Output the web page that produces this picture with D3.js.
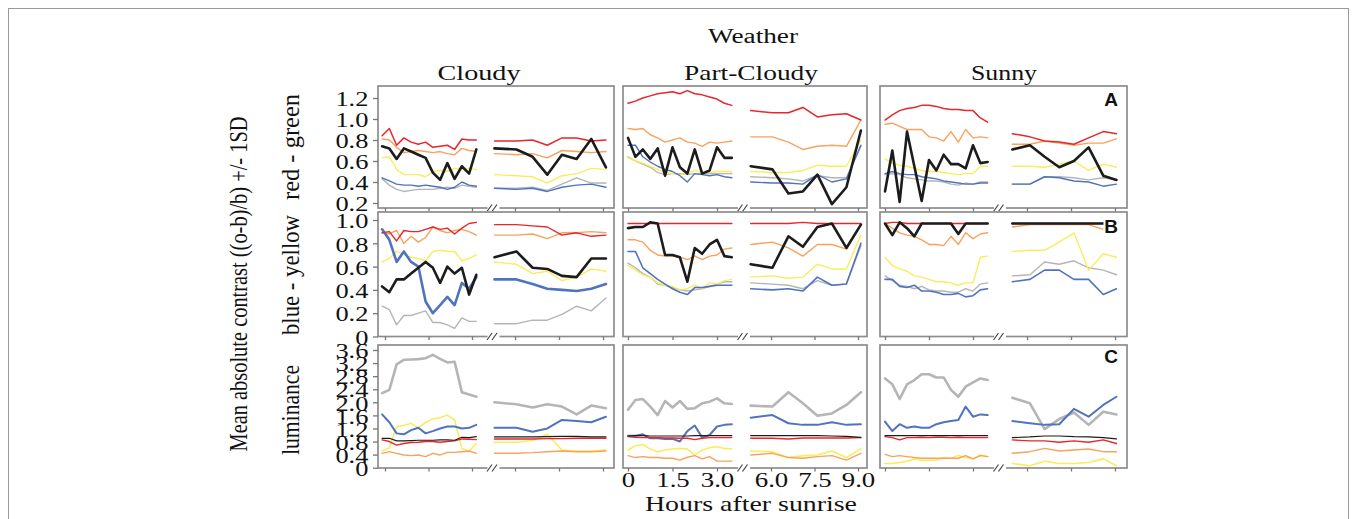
<!DOCTYPE html>
<html><head><meta charset="utf-8">
<script src="https://cdn.jsdelivr.net/npm/d3@7"></script>
<style>body{margin:0;background:#fff}</style>
</head><body>
<svg id="c" width="1357" height="519"></svg>
<script>
// ---------------- data ----------------
const weather = ["Cloudy", "Part-Cloudy", "Sunny"];
const measures = ["red - green", "blue - yellow", "luminance"];
const panelLetters = ["A", "B", "C"];
const seriesOrder = ["gray", "yellow", "orange", "blue", "red", "black"];

const hoursLeftCloudy = [-0.1,0.15,0.4,0.65,0.9,1.15,1.4,1.65,1.9,2.15,2.4,2.65,2.9,3.15];
const hoursLeft = [0,0.25,0.5,0.75,1,1.25,1.5,1.75,2,2.25,2.5,2.75,3,3.25,3.5];
const hoursRight = [5.3,6.05,6.6,7.1,7.6,8.1,8.6,9.1];
const hoursRightSunny = [5.5,6.1,6.6,7.1,7.6,8.1,8.6,9.05];

const xTickValues = [0, 1.5, 3.0, 6.0, 7.5, 9.0];
const xTickLabels = ["0", "1.5", "3.0", "6.0", "7.5", "9.0"];
const yTicksRG = [0.2, 0.4, 0.6, 0.8, 1.0, 1.2];
const yLabelsRG = ["0.2", "0.4", "0.6", "0.8", "1.0", "1.2"];
const yTicksBY = [0, 0.2, 0.4, 0.6, 0.8, 1.0];
const yLabelsBY = ["0", "0.2", "0.4", "0.6", "0.8", "1.0"];
const yTicksLum = [0, 0.4, 0.8, 1.2, 1.6, 2.0, 2.4, 2.8, 3.2, 3.6];
const yLabelsLum = ["0", "0.4", "0.8", "1.2", "1.6", "2.0", "2.4", "2.8", "3.2", "3.6"];

// Row A: red - green
const rgCloudy = {
  red:    {L:[0.84,0.91,0.75,0.82,0.78,0.76,0.78,0.73,0.74,0.75,0.71,0.81,0.80,0.80], R:[0.79,0.79,0.80,0.75,0.82,0.82,0.79,0.80]},
  orange: {L:[0.81,0.80,0.73,0.68,0.69,0.70,0.69,0.68,0.69,0.67,0.66,0.72,0.70,0.69], R:[0.67,0.66,0.67,0.63,0.70,0.69,0.68,0.69]},
  yellow: {L:[0.63,0.64,0.52,0.47,0.47,0.47,0.45,0.50,0.51,0.50,0.53,0.52,0.53,0.52], R:[0.47,0.46,0.45,0.39,0.46,0.48,0.53,0.52]},
  blue:   {L:[0.44,0.41,0.38,0.37,0.37,0.36,0.37,0.36,0.35,0.33,0.35,0.40,0.37,0.36], R:[0.34,0.33,0.34,0.31,0.35,0.37,0.38,0.35]},
  gray:   {L:[0.43,0.37,0.33,0.31,0.32,0.33,0.33,0.33,0.34,0.35,0.34,0.37,0.36,0.35], R:[0.34,0.34,0.35,0.32,0.38,0.44,0.39,0.39]},
  black:  {L:[0.74,0.72,0.62,0.72,0.69,0.66,0.63,0.49,0.42,0.58,0.43,0.55,0.48,0.71], R:[0.72,0.71,0.64,0.47,0.66,0.62,0.81,0.54]}
};
const rgPart = {
  red:    {L:[1.15,1.17,1.20,1.22,1.24,1.25,1.26,1.24,1.27,1.24,1.23,1.21,1.19,1.15,1.13], R:[1.08,1.06,1.06,1.11,1.02,1.04,1.05,0.99]},
  orange: {L:[0.91,0.90,0.91,0.85,0.82,0.78,0.80,0.82,0.78,0.77,0.74,0.78,0.77,0.78,0.79], R:[0.83,0.83,0.78,0.71,0.74,0.75,0.74,0.99]},
  yellow: {L:[0.63,0.60,0.58,0.55,0.52,0.49,0.48,0.47,0.48,0.51,0.49,0.49,0.50,0.50,0.50], R:[0.50,0.49,0.49,0.51,0.56,0.55,0.55,0.80]},
  blue:   {L:[0.75,0.75,0.64,0.59,0.55,0.52,0.50,0.46,0.40,0.48,0.47,0.46,0.47,0.45,0.44], R:[0.40,0.39,0.39,0.38,0.47,0.40,0.43,0.75]},
  gray:   {L:[0.64,0.60,0.57,0.54,0.49,0.47,0.48,0.48,0.47,0.48,0.48,0.48,0.48,0.48,0.48], R:[0.45,0.44,0.43,0.41,0.46,0.44,0.44,0.74]},
  black:  {L:[0.82,0.64,0.71,0.62,0.72,0.46,0.73,0.54,0.48,0.71,0.48,0.51,0.73,0.63,0.63], R:[0.55,0.52,0.29,0.31,0.47,0.19,0.35,0.89]}
};
const rgSunny = {
  red:    {L:[0.99,1.04,1.08,1.10,1.11,1.13,1.13,1.12,1.10,1.09,1.09,1.08,1.08,1.01,0.97], R:[0.86,0.83,0.79,0.78,0.76,0.82,0.88,0.86]},
  orange: {L:[0.95,0.96,0.93,0.90,0.90,0.90,0.83,0.82,0.79,0.88,0.78,0.90,0.82,0.83,0.82], R:[0.76,0.76,0.79,0.77,0.75,0.77,0.77,0.81]},
  yellow: {L:[0.62,0.58,0.56,0.55,0.53,0.51,0.50,0.50,0.49,0.48,0.47,0.48,0.48,0.55,0.55], R:[0.55,0.55,0.54,0.57,0.60,0.51,0.57,0.54]},
  blue:   {L:[0.48,0.50,0.48,0.47,0.47,0.45,0.44,0.43,0.41,0.40,0.39,0.38,0.38,0.39,0.39], R:[0.38,0.38,0.45,0.44,0.41,0.40,0.36,0.38]},
  gray:   {L:[0.47,0.48,0.47,0.44,0.43,0.42,0.41,0.41,0.40,0.38,0.37,0.39,0.38,0.40,0.40], R:[0.38,0.38,0.45,0.45,0.44,0.42,0.44,0.42]},
  black:  {L:[0.31,0.70,0.21,0.88,0.55,0.22,0.61,0.51,0.66,0.57,0.57,0.53,0.75,0.58,0.59], R:[0.71,0.75,0.64,0.54,0.60,0.73,0.46,0.42]}
};

// Row B: blue - yellow
const byCloudy = {
  red:    {L:[0.89,0.90,0.82,0.91,0.90,0.90,0.92,0.94,0.92,0.93,0.88,0.93,0.97,0.98], R:[0.96,0.96,0.95,0.94,0.87,0.89,0.86,0.87]},
  orange: {L:[0.89,0.88,0.91,0.80,0.86,0.81,0.85,0.94,0.91,0.89,0.91,0.92,0.90,0.87], R:[0.87,0.87,0.88,0.84,0.89,0.89,0.90,0.89]},
  yellow: {L:[0.64,0.67,0.73,0.70,0.68,0.67,0.65,0.73,0.74,0.73,0.73,0.65,0.67,0.70], R:[0.64,0.62,0.54,0.56,0.48,0.51,0.58,0.56]},
  blue:   {L:[0.92,0.83,0.64,0.73,0.64,0.60,0.30,0.20,0.27,0.34,0.27,0.46,0.41,0.51], R:[0.49,0.49,0.45,0.41,0.40,0.39,0.41,0.45]},
  gray:   {L:[0.26,0.23,0.10,0.18,0.18,0.20,0.22,0.12,0.12,0.10,0.07,0.16,0.13,0.13], R:[0.11,0.11,0.14,0.14,0.19,0.26,0.22,0.33]},
  black:  {L:[0.43,0.38,0.49,0.49,0.54,0.59,0.64,0.59,0.46,0.60,0.54,0.59,0.36,0.53], R:[0.68,0.73,0.59,0.58,0.52,0.51,0.67,0.67]}
};
const byPart = {
  red:    {L:[0.97,0.97,0.97,0.97,0.97,0.97,0.97,0.97,0.97,0.97,0.97,0.97,0.97,0.97,0.97], R:[0.97,0.97,0.97,0.98,0.97,0.97,0.97,0.97]},
  orange: {L:[0.83,0.83,0.81,0.74,0.70,0.69,0.69,0.68,0.66,0.69,0.66,0.69,0.70,0.75,0.76], R:[0.79,0.81,0.76,0.69,0.79,0.79,0.75,0.96]},
  yellow: {L:[0.61,0.57,0.53,0.51,0.46,0.44,0.43,0.40,0.41,0.44,0.41,0.46,0.45,0.48,0.49], R:[0.51,0.52,0.50,0.51,0.62,0.58,0.58,0.87]},
  blue:   {L:[0.73,0.73,0.59,0.54,0.49,0.45,0.41,0.38,0.36,0.42,0.42,0.43,0.44,0.44,0.44], R:[0.41,0.40,0.41,0.39,0.51,0.44,0.45,0.80]},
  gray:   {L:[0.63,0.59,0.54,0.51,0.45,0.44,0.42,0.40,0.39,0.40,0.41,0.43,0.45,0.47,0.47], R:[0.46,0.45,0.44,0.41,0.48,0.44,0.45,0.78]},
  black:  {L:[0.93,0.94,0.94,0.98,0.97,0.70,0.70,0.68,0.47,0.76,0.71,0.79,0.83,0.69,0.68], R:[0.62,0.59,0.86,0.77,0.94,0.97,0.76,0.96]}
};
const bySunny = {
  red:    {L:[0.97,0.98,0.98,0.97,0.97,0.97,0.97,0.97,0.97,0.97,0.97,0.97,0.97,0.97,0.97], R:[0.97,0.97,0.97,0.97,0.97,0.97,0.97,0.97]},
  orange: {L:[0.97,0.93,0.89,0.87,0.86,0.83,0.79,0.79,0.78,0.86,0.79,0.89,0.84,0.88,0.89], R:[0.94,0.96,0.96,0.96,0.96,0.96,0.92,0.91]},
  yellow: {L:[0.68,0.61,0.58,0.56,0.52,0.51,0.49,0.47,0.47,0.46,0.44,0.46,0.46,0.68,0.69], R:[0.73,0.74,0.74,0.81,0.89,0.57,0.71,0.68]},
  blue:   {L:[0.49,0.49,0.43,0.42,0.44,0.39,0.39,0.38,0.36,0.36,0.37,0.34,0.35,0.40,0.41], R:[0.47,0.49,0.57,0.57,0.49,0.49,0.36,0.41]},
  gray:   {L:[0.52,0.48,0.44,0.43,0.41,0.43,0.40,0.39,0.39,0.38,0.38,0.41,0.39,0.45,0.46], R:[0.52,0.53,0.64,0.62,0.65,0.59,0.57,0.53]},
  black:  {L:[0.97,0.87,0.98,0.93,0.86,0.97,0.97,0.97,0.97,0.97,0.88,0.97,0.97,0.97,0.97], R:[0.97,0.97,0.97,0.97,0.97,0.97,0.97,0.97]}
};

// Row C: luminance
const lumCloudy = {
  gray:   {L:[2.28,2.38,3.16,3.30,3.31,3.32,3.35,3.45,3.33,3.22,3.24,2.31,2.24,2.17], R:[2.00,1.94,1.84,1.94,1.87,1.63,1.90,1.82]},
  blue:   {L:[1.63,1.39,1.05,1.02,1.15,1.22,1.05,1.12,1.20,1.26,1.26,1.20,1.22,1.31], R:[1.22,1.22,1.10,1.20,1.46,1.43,1.39,1.56]},
  yellow: {L:[0.51,0.60,1.26,1.29,1.36,1.22,1.39,1.49,1.53,1.61,1.46,0.59,0.51,0.74], R:[0.78,0.78,0.83,1.02,0.54,0.51,0.51,0.54]},
  black:  {L:[0.90,0.90,0.82,0.82,0.83,0.84,0.84,0.84,0.85,0.85,0.84,0.93,0.92,0.95], R:[0.94,0.94,0.94,0.95,0.96,0.96,0.94,0.94]},
  red:    {L:[0.85,0.80,0.69,0.74,0.77,0.78,0.80,0.80,0.78,0.80,0.82,0.88,0.87,0.86], R:[0.88,0.88,0.88,0.89,0.89,0.90,0.90,0.90]},
  orange: {L:[0.44,0.49,0.44,0.39,0.37,0.39,0.34,0.44,0.39,0.47,0.47,0.49,0.51,0.44], R:[0.44,0.44,0.46,0.49,0.51,0.49,0.49,0.51]}
};
const lumPart = {
  gray:   {L:[1.77,2.07,2.10,1.87,1.61,2.04,1.84,2.04,1.80,1.82,1.97,2.02,2.12,1.97,1.95], R:[1.90,1.87,2.31,1.97,1.59,1.66,1.92,2.31]},
  blue:   {L:[0.98,0.98,1.02,0.90,0.90,0.88,0.88,0.80,1.12,1.29,0.92,1.00,1.26,1.31,1.33], R:[1.53,1.61,1.36,1.31,1.31,1.39,1.31,1.33]},
  black:  {L:[0.97,0.98,0.98,0.97,0.97,0.97,0.97,0.97,0.97,0.98,0.98,0.98,0.98,0.98,0.98], R:[0.98,0.98,0.98,0.98,0.98,0.97,0.96,0.93]},
  red:    {L:[0.95,0.93,0.92,0.92,0.92,0.91,0.91,0.90,0.90,0.86,0.90,0.92,0.92,0.92,0.92], R:[0.90,0.90,0.88,0.91,0.91,0.91,0.91,0.92]},
  yellow: {L:[0.54,0.67,0.71,0.57,0.49,0.54,0.57,0.59,0.57,0.39,0.54,0.61,0.64,0.59,0.57], R:[0.51,0.49,0.31,0.37,0.39,0.51,0.31,0.59]},
  orange: {L:[0.37,0.31,0.34,0.31,0.31,0.29,0.29,0.23,0.32,0.37,0.27,0.34,0.20,0.20,0.20], R:[0.39,0.44,0.31,0.29,0.34,0.37,0.23,0.44]}
};
const lumSunny = {
  gray:   {L:[2.73,2.55,2.10,2.55,2.68,2.86,2.86,2.76,2.76,2.38,2.17,2.48,2.61,2.73,2.68], R:[2.14,1.97,1.18,1.49,1.69,1.31,1.71,1.63]},
  blue:   {L:[1.41,1.12,1.33,1.22,1.26,1.22,1.22,1.33,1.39,1.43,1.46,1.87,1.56,1.63,1.61], R:[1.43,1.36,1.31,1.33,1.80,1.56,1.92,2.17]},
  black:  {L:[0.98,0.98,0.98,0.98,0.98,0.98,0.98,0.98,0.98,0.98,0.98,0.98,0.98,0.98,0.98], R:[0.92,0.94,0.97,0.97,0.95,0.94,0.92,0.88]},
  red:    {L:[0.95,0.92,0.85,0.92,0.92,0.93,0.92,0.93,0.93,0.92,0.93,0.92,0.92,0.92,0.92], R:[0.85,0.82,0.82,0.78,0.82,0.78,0.85,0.74]},
  orange: {L:[0.41,0.34,0.37,0.34,0.31,0.29,0.29,0.29,0.29,0.29,0.29,0.37,0.27,0.37,0.34], R:[0.44,0.49,0.59,0.51,0.54,0.57,0.49,0.49]},
  yellow: {L:[0.13,0.13,0.16,0.20,0.27,0.23,0.23,0.23,0.31,0.29,0.37,0.31,0.27,0.39,0.34], R:[0.13,0.06,0.20,0.13,0.13,0.16,0.27,0.06]}
};

// ---------------- layout & style ----------------
const seriesColors = {red:"#e8262c", orange:"#f8a25c", yellow:"#f9ed5e", blue:"#5073bd", gray:"#b5b5b5", black:"#1c1c1c"};
const rowWidths = [
  {gray:1.4, yellow:1.4, orange:1.4, blue:1.4, red:1.5, black:2.6},
  {gray:1.4, yellow:1.4, orange:1.4, blue:1.6, red:1.4, black:2.6},
  {gray:2.6, yellow:1.6, orange:1.4, blue:2.0, red:1.4, black:1.2}
];
const cols = [
  {x0:378, x1:614, L:[385,472], R:[515,603], hL:hoursLeftCloudy, hR:hoursRight},
  {x0:623, x1:867, L:[628,717], R:[771,858], hL:hoursLeft, hR:hoursRight},
  {x0:880, x1:1127, L:[885,973], R:[1027,1115], hL:hoursLeft, hR:hoursRightSunny}
];
const rows = [
  {y0:86,  y1:208,   dom:[0.2,1.2], rng:[203,98],    ticks:yTicksRG,  labels:yLabelsRG,  letterY:106},
  {y0:212, y1:336.5, dom:[0,1],     rng:[336.5,220], ticks:yTicksBY,  labels:yLabelsBY,  letterY:233},
  {y0:345, y1:468,   dom:[0,3.6],   rng:[467.7,350], ticks:yTicksLum, labels:yLabelsLum, letterY:363}
];
const panels = [[rgCloudy, rgPart, rgSunny], [byCloudy, byPart, bySunny], [lumCloudy, lumPart, lumSunny]];

const SERIF = "'Liberation Serif','Times New Roman',serif";
const svg = d3.select("#c");

// outer frame
svg.append("rect").attr("x",8.5).attr("y",8.5).attr("width",1340).attr("height",530)
  .attr("fill","none").attr("stroke","#9a9a9a").attr("stroke-width",1);

function txt(x, y, s, o) {
  let tr = `translate(${x},${y})`;
  if (o.sx) tr += ` scale(${o.sx},1)`;
  if (o.rot) tr += ` rotate(${o.rot})`;
  const t = svg.append("text").attr("transform", tr)
    .attr("font-family", o.ff || SERIF).attr("font-size", o.size || 21)
    .attr("font-weight", o.bold ? "bold" : "normal")
    .attr("text-anchor", o.anchor || "middle").attr("fill", "#111").text(s);
  if (o.len) t.attr("textLength", o.len).attr("lengthAdjust", "spacingAndGlyphs");
  if (o.halo) t.attr("stroke", "#fff").attr("stroke-width", 4).attr("paint-order", "stroke");
  return t;
}

// titles
txt(753, 43, "Weather", {size:20, len:90});
const titleX = [479, 751, 1004], titleLen = [83, 134, 66];
weather.forEach((w,i) => txt(titleX[i], 80, w, {size:21, len:titleLen[i]}));
txt(247, 284, "Mean absolute contrast ((o-b)/b) +/- 1SD", {size:21, rot:-90, sx:1.15, len:335});
const measY = [147, 275, 410], measLen = [106, 120, 90];
measures.forEach((m,i) => txt(299, measY[i], m, {size:21, rot:-90, sx:1.15, len:measLen[i]}));
txt(751, 511, "Hours after sunrise", {size:22, len:212});

rows.forEach((row, ri) => {
  const y = d3.scaleLinear().domain(row.dom).range(row.rng);
  cols.forEach((col, ci) => {
    const g = svg.append("g");
    const xL = d3.scaleLinear().domain([0,3]).range(col.L);
    const xR = d3.scaleLinear().domain([6,9]).range(col.R);
    const data = panels[ri][ci];

    // lines
    seriesOrder.forEach(name => {
      const s = data[name];
      let w = rowWidths[ri][name];
      if (ri === 1 && ci === 0 && name === "blue") w = 2.6;
      const lineL = d3.line().x((d,i) => xL(col.hL[i])).y(d => y(d));
      const lineR = d3.line().x((d,i) => xR(col.hR[i])).y(d => y(d));
      [[s.L, lineL], [s.R, lineR]].forEach(([vals, gen]) => {
        g.append("path").attr("d", gen(vals)).attr("fill","none")
          .attr("stroke", seriesColors[name]).attr("stroke-width", w)
          .attr("stroke-linejoin","round").attr("stroke-linecap","round");
      });
    });

    // box
    g.append("rect").attr("x", col.x0).attr("y", row.y0)
      .attr("width", col.x1 - col.x0).attr("height", row.y1 - row.y0)
      .attr("fill","none").attr("stroke","#8c8c8c").attr("stroke-width",1.7);

    // bottom ticks (two segments)
    const showLab = (ri === 2 && ci === 1);
    [[xL, [0,1.5,3.0]], [xR, [6.0,7.5,9.0]]].forEach(([sc, vals]) => {
      const ax = g.append("g").attr("transform", `translate(0,${row.y1})`)
        .call(d3.axisBottom(sc).tickValues(vals).tickSize(3.5)
          .tickFormat(d => showLab ? xTickLabels[xTickValues.indexOf(d)] : ""));
      ax.select(".domain").remove();
      ax.selectAll("line").attr("stroke","#777").attr("stroke-width",1.3);
      ax.selectAll("text").attr("font-family", SERIF).attr("font-size", 22)
        .attr("fill","#111").attr("y", 487 - row.y1).attr("dy", 0)
        .attr("transform","scale(1.22,1)");
    });

    // axis break marker
    const bx = (col.L[1] + col.R[0]) / 2 + 1;
    g.append("rect").attr("x", bx - 7).attr("y", row.y1 - 2).attr("width", 12).attr("height", 4).attr("fill","#fff");
    [-5, 0].forEach(dx => g.append("line")
      .attr("x1", bx + dx - 2.5).attr("y1", row.y1 + 3.5)
      .attr("x2", bx + dx + 2.5).attr("y2", row.y1 - 3.5)
      .attr("stroke","#444").attr("stroke-width",1.2));

    // y axis on first column
    if (ci === 0) {
      const ay = g.append("g").attr("transform", `translate(${col.x0},0)`)
        .call(d3.axisLeft(y).tickValues(row.ticks).tickSize(5).tickPadding(4)
          .tickFormat(d => row.labels[row.ticks.indexOf(d)]));
      ay.select(".domain").remove();
      ay.selectAll("line").attr("stroke","#777").attr("stroke-width",1.3);
      ay.selectAll("text").attr("font-family", SERIF).attr("font-size", 22)
        .attr("fill","#111").attr("x", -8).attr("dy","0.35em")
        .attr("transform","scale(1.2,1)");
    }

    if (ci === 2) {
      txt(1111, row.letterY, panelLetters[ri], {ff:"'Liberation Sans',Arial,sans-serif", size:19, bold:true, halo:true});
    }
  });
});
</script>
</body></html>
